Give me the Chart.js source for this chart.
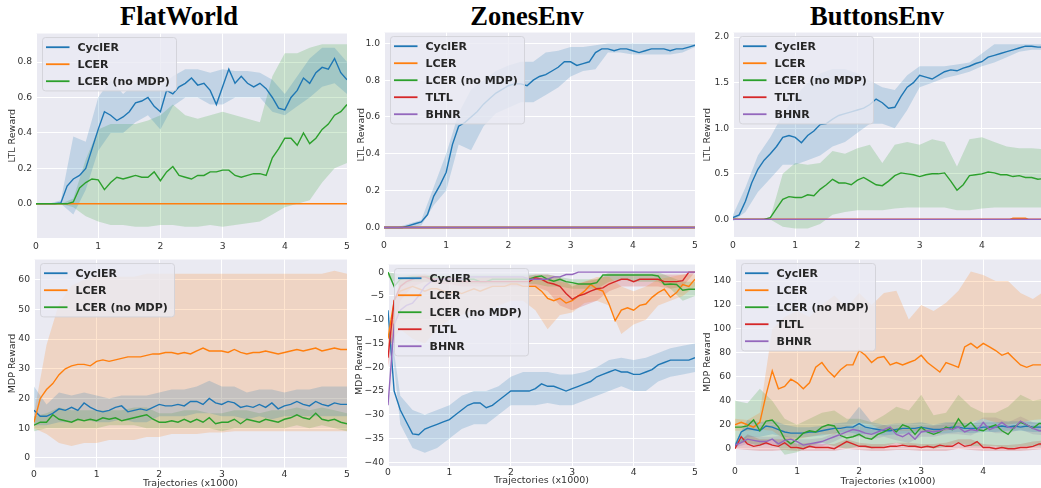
<!DOCTYPE html>
<html>
<head>
<meta charset="utf-8">
<script src="https://cdn.jsdelivr.net/npm/chart.js@4.4.1/dist/chart.umd.min.js"></script>
<style>
html, body { margin: 0; padding: 0; background: #fff; overflow: hidden; width: 1041px; height: 488px; }
canvas { position: absolute; }
.ttl { position: absolute; width: 240px; text-align: center; font: bold 26.5px "Liberation Serif", "Times New Roman", serif; line-height: 30px; color: #000; }
</style>
</head>
<body>
<div class="ttl" style="left:59px;top:1px">FlatWorld</div>
<div class="ttl" style="left:407px;top:1px">ZonesEnv</div>
<div class="ttl" style="left:757px;top:1px">ButtonsEnv</div>
<script>
// x grids (thousands of trajectories)
var XS = [0,0.1,0.2,0.3,0.4,0.5,0.6,0.7,0.8,0.9,1,1.1,1.2,1.3,1.4,1.5,1.6,1.7,1.8,1.9,2,2.1,2.2,2.3,2.4,2.5,2.6,2.7,2.8,2.9,
          3,3.1,3.2,3.3,3.4,3.5,3.6,3.7,3.8,3.9,4,4.1,4.2,4.3,4.4,4.5,4.6,4.7,4.8,4.9,5];
var XB = [0,0.2,0.4,0.6,0.8,1,1.2,1.4,1.6,1.8,2,2.2,2.4,2.6,2.8,3,3.2,3.4,3.6,3.8,4,4.2,4.4,4.6,4.8,5];
var FLAT_X = [0, 5];
var FLAT_ZERO = [0, 0];

// tick labels
var X_TICKS_5 = [0,1,2,3,4,5];
var X_TICKS_4 = [0,1,2,3,4];
var FW_LTL_YTICKS = [0,0.2,0.4,0.6,0.8];
var ZE_LTL_YTICKS = [0,0.2,0.4,0.6,0.8,1.0];
var BE_LTL_YTICKS = [0,0.5,1.0,1.5,2.0];
var FW_MDP_YTICKS = [0,10,20,30,40,50,60];
var ZE_MDP_YTICKS = [-40,-35,-30,-25,-20,-15,-10,-5,0];
var BE_MDP_YTICKS = [0,20,40,60,80,100,120,140];

// FlatWorld - LTL reward
var FW_LTL_CYCLER = [0,0,0,0,0.005,0.1,0.14,0.16,0.2,0.31,
  0.42,0.52,0.5,0.47,0.49,0.52,0.57,0.58,0.6,0.55,
  0.52,0.64,0.62,0.66,0.68,0.71,0.67,0.68,0.64,0.56,
  0.66,0.76,0.68,0.72,0.68,0.66,0.68,0.65,0.6,0.54,
  0.53,0.6,0.64,0.71,0.68,0.74,0.77,0.76,0.82,0.74,0.7];
var FW_LTL_CYCLER_LO = [0,0,0,-0.06,0.08,0.3,0.4,0.4,0.46,0.5,0.42,0.55,0.6,0.6,0.56,0.56,0.6,0.6,0.6,0.52,0.5,0.55,0.6,0.66,0.68,0.62];
var FW_LTL_CYCLER_HI = [0,0,0.02,0.38,0.35,0.6,0.7,0.62,0.68,0.72,0.66,0.72,0.76,0.76,0.74,0.76,0.75,0.75,0.74,0.7,0.62,0.72,0.82,0.88,0.88,0.8];
var FW_LTL_NOMDP = [0,0,0,0,0,0,0.01,0.09,0.12,0.14,
  0.135,0.08,0.12,0.15,0.14,0.15,0.16,0.15,0.15,0.18,
  0.13,0.18,0.21,0.16,0.15,0.14,0.16,0.16,0.18,0.18,
  0.19,0.19,0.16,0.15,0.16,0.17,0.17,0.16,0.26,0.31,
  0.37,0.37,0.33,0.4,0.34,0.37,0.42,0.45,0.5,0.52,0.56];
var FW_LTL_NOMDP_LO = [0,0,0,-0.02,-0.07,-0.1,-0.12,-0.12,-0.13,-0.13,-0.12,-0.12,-0.13,-0.13,-0.12,-0.13,-0.12,-0.11,-0.1,-0.06,-0.02,0,0.02,0.12,0.2,0.23];
var FW_LTL_NOMDP_HI = [0,0,0,0.03,0.25,0.42,0.45,0.45,0.45,0.47,0.5,0.56,0.5,0.48,0.5,0.52,0.5,0.48,0.46,0.72,0.85,0.85,0.88,0.9,0.9,0.9];

// ZonesEnv - LTL reward
var ZE_LTL_CYCLER = [0,0,0,0,0.01,0.02,0.03,0.07,0.17,0.23,
  0.3,0.45,0.55,0.57,0.6,0.63,0.67,0.7,0.73,0.75,
  0.77,0.78,0.78,0.77,0.8,0.82,0.83,0.85,0.87,0.9,
  0.9,0.88,0.89,0.9,0.95,0.97,0.97,0.96,0.97,0.97,
  0.96,0.95,0.96,0.97,0.97,0.97,0.96,0.97,0.97,0.98,0.99];
var ZE_LTL_CYCLER_LO = [0,0,0,0.01,0.12,0.2,0.45,0.42,0.55,0.62,0.65,0.68,0.68,0.72,0.76,0.82,0.85,0.86,0.95,0.95,0.94,0.94,0.94,0.94,0.95,0.98];
var ZE_LTL_CYCLER_HI = [0,0,0.02,0.04,0.22,0.4,0.62,0.75,0.8,0.85,0.88,0.9,0.9,0.95,0.96,0.98,0.98,0.99,1.0,1.0,1.0,1.0,1.0,1.0,1.0,1.0];

// ButtonsEnv - LTL reward
var BE_LTL_CYCLER = [0.02,0.05,0.2,0.4,0.55,0.65,0.72,0.8,0.9,0.92,
  0.9,0.84,0.92,0.97,1.04,1.05,1.1,1.14,1.16,1.18,
  1.2,1.22,1.26,1.32,1.28,1.22,1.23,1.35,1.45,1.5,
  1.58,1.56,1.54,1.58,1.62,1.64,1.63,1.66,1.68,1.71,
  1.73,1.78,1.8,1.82,1.84,1.86,1.88,1.9,1.9,1.89,1.89];
var BE_LTL_CYCLER_LO = [-0.02,0.08,0.3,0.45,0.6,0.6,0.65,0.7,0.8,0.85,0.95,1.05,1.05,1.0,1.2,1.45,1.5,1.55,1.58,1.62,1.68,1.72,1.78,1.84,1.86,1.86];
var BE_LTL_CYCLER_HI = [0.05,0.35,0.7,0.9,1.15,1.35,1.5,1.6,1.65,1.65,1.6,1.52,1.45,1.42,1.58,1.68,1.68,1.68,1.7,1.72,1.82,1.92,1.92,1.92,1.92,1.92];
var BE_LTL_LCER_X = [0,4.45,4.5,4.7,4.75,5];
var BE_LTL_LCER = [0,0,0.012,0.012,0,0];
var BE_LTL_NOMDP = [0,0,0,0,0,0,0.02,0.12,0.22,0.25,
  0.24,0.24,0.27,0.26,0.33,0.38,0.44,0.4,0.4,0.38,
  0.43,0.46,0.42,0.38,0.37,0.42,0.48,0.51,0.5,0.49,
  0.47,0.49,0.5,0.5,0.51,0.42,0.32,0.38,0.48,0.49,
  0.5,0.52,0.51,0.49,0.49,0.47,0.48,0.46,0.46,0.44,0.45];
var BE_LTL_NOMDP_LO = [0,0,0,0,-0.08,-0.1,-0.1,-0.05,0.05,0.08,0.1,0.1,0.1,0.12,0.13,0.13,0.13,0.13,0.1,0.1,0.12,0.13,0.13,0.13,0.13,0.13];
var BE_LTL_NOMDP_HI = [0,0,0,0.02,0.5,0.62,0.6,0.62,0.75,0.72,0.78,0.82,0.62,0.82,0.85,0.82,0.88,0.85,0.58,0.88,0.9,0.85,0.8,0.78,0.78,0.77];

// FlatWorld - MDP reward
var FW_MDP_CYCLER = [16,14,14,15,16.5,16,17,16,18.5,17,
  16,15.5,16,17,17.5,15.5,16,16.5,16,17,
  18,17.5,17.5,18,17.5,19,19,18,20,18.5,
  18,19,18.5,17,17.5,17,18,17,18.5,16.5,
  17.5,18,19,18,17.5,19,18,17.5,18.5,18,18];
var FW_MDP_CYCLER_LO = [11,11,12,12,13,12,12,13,12,12,14,14,14,15,15,14,14,13,14,13,14,14,14,14,14,14];
var FW_MDP_CYCLER_HI = [24,18,22,21,22,21,20,21,21,21,22,23,23,24,26,24,24,22,23,23,22,23,23,24,24,24];
var FW_MDP_LCER = [12,20,23,25,28,30,31,31.5,31.5,31,
  32.5,33,32.5,33,33.5,34,34,34,34.5,35,
  35,35.5,35.5,35,35.5,35,36,37,36,36,
  36,35.5,36.5,35.5,35,35.5,35.5,36,35.5,35,
  35.5,36,36.5,36,36.5,37,36,36.5,37,36.5,36.5];
var FW_MDP_LCER_LO = [10,8,5,4,5,5,6,6,6,7,7,8,8,8,8.5,8.5,9,9,9,9,9,9,9,9,9,9];
var FW_MDP_LCER_HI = [15,38,52,58,60,61,61,61,61,62,62,62,62,62,62,62,62,62,62,62,62,62,62,62,63,62];
var FW_MDP_NOMDP = [11,12,12,14.5,13,12.5,12,13,12.5,13,
  12.5,13.5,13,13.5,12.5,13,13.5,14,14.5,13,
  12,12,12.5,12,13,12,13,12,13.5,11.5,
  12,12,13,11.5,13,12.5,12,13,12.5,12,
  13,13.5,14.5,13.5,13,15,13,12.5,13,12,11.5];
var FW_MDP_NOMDP_LO = [9,10,10,10,10,10,11,11,11,10,10,10,10,10,10,9,10,10,10,10,10,11,10,11,10,9];
var FW_MDP_NOMDP_HI = [14,15,17,16,16,16,16,16,17,17,15,15,16,16,15,15,16,16,15,16,16,17,16,17,16,15];

// ZonesEnv - MDP reward
var ZE_MDP_CYCLER = [-8,-25,-29,-31.5,-34,-34.2,-33,-32.5,-32,-31.5,
  -31,-30,-29,-28,-27.5,-27.5,-28.5,-28,-27,-26,
  -25,-25,-25,-25,-24.5,-23.5,-24,-24,-24.5,-25,
  -24.5,-24,-23.5,-23,-22,-21.5,-21,-20.5,-21,-21,
  -21.5,-21.5,-21,-20.5,-19.5,-19,-18.5,-18.5,-18.5,-18.5,-18];
var ZE_MDP_CYCLER_LO = [-8,-32,-37,-38,-37,-35,-33,-32,-32,-30,-28,-28,-28,-27.5,-28,-28,-27,-26,-25,-24,-25,-25,-23,-22,-21.5,-21];
var ZE_MDP_CYCLER_HI = [-8,-26,-29,-30,-29,-28,-26,-25,-25,-24,-22,-21,-21,-21,-21.5,-21.5,-21,-20,-18.5,-18,-18.5,-18,-17,-16,-15.5,-15];
var ZE_MDP_LCER = [-14,-6,-4,-3.5,-3,-3.5,-4,-3.5,-3.5,-4,
  -4.5,-4,-4.5,-4,-3.5,-4,-3.5,-3,-3,-3,
  -2.5,-2.5,-3,-3,-3,-4,-5.5,-6,-5.5,-6.5,
  -6,-5,-4,-2.6,-3.5,-4,-6.7,-10.2,-8,-7.5,
  -8,-7,-6.7,-5.3,-4.3,-3.6,-5.3,-4.3,-2.6,-3,-1.5];
var ZE_MDP_LCER_LO = [-16,-12,-14,-15,-12,-10,-9,-8,-8,-7,-6,-6,-8,-12,-9,-8.5,-6.5,-6,-7,-13,-11,-10,-7,-6,-5,-3];
var ZE_MDP_LCER_HI = [-12,-1,-1,-0.5,-1,-1,-1.5,-1.5,-1,-1,-1,-1,-1,-1.5,-2,-2.5,-2,-1,-1,-3,-4,-3,-1.5,-1,-0.5,-0.5];
var ZE_MDP_NOMDP = [0,-3,-1.5,-1.2,-1,-1,-1,-1,-1,-1.2,
  -1.5,-1.5,-1.5,-1.5,-1.5,-2,-2,-1.5,-1.5,-1.5,
  -1.5,-1.5,-1.5,-1.5,-1,-0.8,-1.5,-1.9,-1.5,-2,
  -2.2,-2.5,-2.5,-2.5,-2.2,-0.6,-0.6,-0.6,-0.6,-0.6,
  -0.6,-0.6,-0.6,-0.6,-0.8,-2.6,-2.5,-2.6,-3.8,-3.6,-3.6];
var ZE_MDP_NOMDP_LO = [-1,-3,-2,-2,-2,-2,-2.5,-2.5,-2.5,-2.5,-2.5,-2.5,-2.5,-3,-3,-3.5,-3.5,-3.5,-2,-1.5,-2,-2,-2,-3.5,-6,-5];
var ZE_MDP_NOMDP_HI = [0,-0.5,-0.5,-0.5,-0.5,-0.5,-0.5,-0.5,-0.5,-0.5,-0.5,-0.5,-0.5,-0.5,-1,-1.5,-1.5,-1.5,0,0,0,0,0,-1,-2,-2];
var ZE_MDP_TLTL = [-18,-6,-3,-2,-1.5,-1,-1,-1.5,-1.5,-1.5,
  -1.5,-1.5,-2,-2,-2,-2,-2,-2,-2,-2,
  -2,-2,-2,-2,-1.2,-1.5,-2.2,-2.5,-3,-4.5,
  -5.7,-5,-4.6,-4,-3.5,-3.3,-2.5,-2,-1.5,-1.5,
  -2,-1.5,-1.5,-1.5,-1.5,-2,-2,-2,-1.8,0,0];
var ZE_MDP_TLTL_LO = [-20,-6,-3,-2,-2.5,-2.5,-3,-3,-3,-3,-3,-3,-3,-4,-7,-8,-7,-6,-4,-3,-3,-3,-3,-3.5,-3,0];
var ZE_MDP_TLTL_HI = [-15,-1,-0.5,-0.5,-1,-1,-1,-1,-1,-1,-1,-1,-0.5,-0.5,-1,-3,-2,-1.5,-0.5,-0.5,-0.5,-0.5,-0.5,-0.5,-0.5,0];
var ZE_MDP_BHNR = [-28,-11,-8,-7,-6.5,-5,-3,-2,-1.5,-1.5,
  -1.5,-1.5,-1.5,-1,-1,-1,-1,-1,-1,-1,
  -1,-1,-1,-1.5,-1.5,-1.5,-1.5,-1,-1,-0.5,
  -0.5,0,0,0,0,0,0,0,0,0,
  0,0,0,0,0,0,0,0,0,0,0];

// ButtonsEnv - MDP reward
var BE_MDP_CYCLER = [2,14,17,16,15,19,18,16,14,13,
  13,13,14,14,15,16,17,17,18,18,
  21,18,17,16,15,15,16,17,17,17,
  18,17,16,16,17,18,18,17,17,17,
  18,18,18,19,18,19,18,19,18,18,18];
var BE_MDP_CYCLER_LO = [0,10,10,12,10,9,10,11,13,14,12,12,11,12,13,14,12,13,14,13,14,14,15,15,14,14];
var BE_MDP_CYCLER_HI = [5,24,22,24,20,18,18,19,21,22,35,22,20,21,21,22,20,22,22,21,22,22,23,23,22,22];
var BE_MDP_LCER = [20,22,20,18,22,45,65,50,52,58,
  55,50,55,68,72,65,60,66,70,70,
  82,78,72,76,77,70,72,70,72,74,
  78,72,68,64,72,70,68,85,88,84,
  88,85,82,78,80,75,70,68,70,70,70];
var BE_MDP_LCER_LO = [15,15,16,15,8,8,10,12,12,18,22,20,15,15,15,15,14,15,18,22,25,22,20,22,24,25];
var BE_MDP_LCER_HI = [25,24,30,100,110,115,110,120,128,118,130,120,130,132,108,120,115,122,132,148,145,140,140,130,125,132];
var BE_MDP_NOMDP = [18,18,19,24,15,23,24,18,8,4,
  8,13,15,14,18,20,19,11,9,10,
  12,9,8,12,14,17,14,20,18,12,
  18,14,12,14,18,16,25,18,22,16,
  15,18,20,15,12,18,22,20,17,21,21];
var BE_MDP_NOMDP_LO = [5,5,2,8,-5,-3,2,5,2,0,2,0,2,5,2,2,0,2,5,2,2,2,0,2,2,2];
var BE_MDP_NOMDP_HI = [40,38,50,40,25,20,25,30,32,25,25,22,28,35,32,45,28,30,45,35,30,30,35,45,40,42];
var BE_MDP_TLTL = [0,10,4,2,3,5,3,2,5,1,
  1,0,2,1,1,1,0,3,6,4,
  2,2,1,1,1,2,2,3,2,2,
  1,2,1,3,2,2,5,2,3,6,
  1,1,0,1,0,0,1,1,2,4,4];
var BE_MDP_TLTL_LO = [0,-1,-2,-2,-1,-2,-2,-2,-2,0,-1,-2,-2,-1,-1,-2,-2,-2,0,-1,-2,-2,-2,-2,-1,0];
var BE_MDP_TLTL_HI = [2,12,8,8,8,4,5,4,4,8,5,4,4,5,5,4,4,5,8,8,4,3,3,4,6,7];
var BE_MDP_BHNR = [3,5,8,7,6,6,8,4,7,8,
  6,3,4,5,6,8,10,12,14,16,
  15,13,12,14,16,18,12,10,13,8,
  14,15,14,15,17,16,18,14,16,15,
  22,16,18,22,18,17,23,20,17,15,15];
var BE_MDP_BHNR_LO = [1,4,3,3,3,2,1,2,6,11,10,8,10,7,5,10,10,12,12,11,16,13,13,16,12,11];
var BE_MDP_BHNR_HI = [5,11,10,10,11,8,8,9,13,18,19,16,20,16,16,18,19,21,22,20,26,26,22,27,22,20];

var BLUE = "#1f77b4", ORANGE = "#ff7f0e", GREEN = "#2ca02c", RED = "#d62728", PURPLE = "#9467bd";

Chart.defaults.font.family = '"DejaVu Sans", sans-serif';
Chart.defaults.font.size = 9;
Chart.defaults.color = "#333";

function fade(hex, a) {
    var n = parseInt(hex.slice(1), 16);
    return "rgba(" + (n >> 16) + "," + ((n >> 8) & 255) + "," + (n & 255) + "," + a + ")";
}

function pts(xs, ys) {
    return xs.map(function (x, i) { return { x: x, y: ys[i] }; });
}

function fmt(v, dec) {
    var s = Math.abs(v).toFixed(dec);
    return (v < 0 ? "\u2212" : "") + s;
}

var plotBg = {
    id: "plotBg",
    beforeDraw: function (chart) {
        var a = chart.chartArea, ctx = chart.ctx;
        ctx.save();
        ctx.fillStyle = "#EAEAF2";
        ctx.fillRect(a.left, a.top, a.right - a.left, a.bottom - a.top);
        ctx.restore();
    }
};

function innerLegend(items) {
    return {
        id: "innerLegend",
        afterDatasetsDraw: function (chart) {
            var a = chart.chartArea, ctx = chart.ctx;
            var x0 = a.left + 6.5, y0 = a.top + 4;
            var w = 134, h = 19.4 + (items.length - 1) * 17;
            ctx.save();
            ctx.beginPath();
            ctx.roundRect(x0, y0, w, h, 3);
            ctx.fillStyle = "rgba(234,234,242,0.8)";
            ctx.fill();
            ctx.strokeStyle = "rgba(210,210,216,0.9)";
            ctx.lineWidth = 1;
            ctx.stroke();
            ctx.font = 'bold 11px "DejaVu Sans", sans-serif';
            ctx.textBaseline = "middle";
            for (var i = 0; i < items.length; i++) {
                var y = y0 + 9.7 + 17 * i;
                ctx.strokeStyle = items[i].color;
                ctx.lineWidth = 1.8;
                ctx.beginPath();
                ctx.moveTo(x0 + 3.5, y);
                ctx.lineTo(x0 + 27, y);
                ctx.stroke();
                ctx.fillStyle = "#262626";
                ctx.fillText(items[i].label, x0 + 35, y + 0.5);
            }
            ctx.restore();
        }
    };
}

function buildPanel(g) {
    var cl = Math.round(g.yTitleX - 5.7);
    var ct = g.T - 8;
    var cw = Math.round(g.R - cl + 6);
    var ch = Math.round(g.cb - ct);
    var cv = document.createElement("canvas");
    cv.width = cw;
    cv.height = ch;
    cv.style.left = cl + "px";
    cv.style.top = ct + "px";
    document.body.appendChild(cv);

    var lines = [], bands = [];
    var n = g.series.length;
    for (var i = 0; i < n; i++) {
        var s = g.series[i];
        lines.push({
            label: s.label, data: pts(s.x, s.y), borderColor: s.color, borderWidth: 1.4,
            pointRadius: 0, fill: false, tension: 0, order: 10 - i
        });
        if (s.band) {
            bands.push({ data: pts(XB, s.band[0]), borderWidth: 0, pointRadius: 0, fill: false, order: 100 });
            bands.push({ data: pts(XB, s.band[1]), borderWidth: 0, pointRadius: 0, fill: "-1",
                backgroundColor: fade(s.color, 0.2), order: 100 });
        }
    }

    return new Chart(cv, {
        type: "line",
        data: { datasets: lines.concat(bands) },
        options: {
            responsive: false,
            animation: false,
            events: [],
            layout: { padding: { left: 0, top: 8, right: 6, bottom: 0 } },
            plugins: { legend: { display: false }, tooltip: { enabled: false } },
            scales: {
                x: {
                    type: "linear", min: g.xMin, max: g.xMax, bounds: "data",
                    border: { display: false },
                    grid: { color: "#ffffff", lineWidth: 1, drawTicks: false },
                    ticks: { padding: g.xPad, color: "#333", font: { size: 9.2 }, callback: function (v) { return String(v); } },
                    afterBuildTicks: function (sc) { sc.ticks = g.xTicks.map(function (v) { return { value: v }; }); },
                    afterFit: function (sc) { sc.height = g.cb - g.B; },
                    title: g.xTitle ? { display: true, text: g.xTitle, padding: 0, color: "#333", font: { size: 9.5 } } : { display: false }
                },
                y: {
                    type: "linear", min: g.yMin, max: g.yMax, bounds: "data",
                    border: { display: false },
                    grid: { color: "#ffffff", lineWidth: 1, drawTicks: false },
                    ticks: { padding: 4, color: "#333", font: { size: 9.2 }, callback: function (v) { return fmt(v, g.yDec); } },
                    afterBuildTicks: function (sc) { sc.ticks = g.yTicks.map(function (v) { return { value: v }; }); },
                    afterFit: function (sc) { sc.width = g.L - cl; },
                    title: { display: true, text: g.yTitle, padding: 0, color: "#333", font: { size: 9.5 } }
                }
            }
        },
        plugins: [plotBg, innerLegend(g.series.map(function (s) { return { label: s.label, color: s.color }; }))]
    });
}

var panels = [
    { L: 36, T: 32, R: 347, B: 238, cb: 254, yTitleX: 12.5, xMin: 0, xMax: 5, yMin: -0.193, yMax: 0.961,
      xTicks: X_TICKS_5, yTicks: FW_LTL_YTICKS, yDec: 1, yTitle: "LTL Reward", xTitle: null, xPad: 3,
      series: [
        { label: "CyclER", color: BLUE, x: XS, y: FW_LTL_CYCLER, band: [FW_LTL_CYCLER_LO, FW_LTL_CYCLER_HI] },
        { label: "LCER", color: ORANGE, x: FLAT_X, y: FLAT_ZERO },
        { label: "LCER (no MDP)", color: GREEN, x: XS, y: FW_LTL_NOMDP, band: [FW_LTL_NOMDP_LO, FW_LTL_NOMDP_HI] }
      ] },
    { L: 384, T: 31, R: 695, B: 237, cb: 253, yTitleX: 362, xMin: 0, xMax: 5, yMin: -0.052, yMax: 1.059,
      xTicks: X_TICKS_5, yTicks: ZE_LTL_YTICKS, yDec: 1, yTitle: "LTL Reward", xTitle: null, xPad: 3,
      series: [
        { label: "CyclER", color: BLUE, x: XS, y: ZE_LTL_CYCLER, band: [ZE_LTL_CYCLER_LO, ZE_LTL_CYCLER_HI] },
        { label: "LCER", color: ORANGE, x: FLAT_X, y: FLAT_ZERO },
        { label: "LCER (no MDP)", color: GREEN, x: FLAT_X, y: FLAT_ZERO },
        { label: "TLTL", color: RED, x: FLAT_X, y: FLAT_ZERO },
        { label: "BHNR", color: PURPLE, x: FLAT_X, y: FLAT_ZERO }
      ] },
    { L: 733, T: 31, R: 1041, B: 237, cb: 253, yTitleX: 708, xMin: 0, xMax: 4.95, yMin: -0.193, yMax: 2.05,
      xTicks: X_TICKS_4, yTicks: BE_LTL_YTICKS, yDec: 1, yTitle: "LTL Reward", xTitle: null, xPad: 3,
      series: [
        { label: "CyclER", color: BLUE, x: XS, y: BE_LTL_CYCLER, band: [BE_LTL_CYCLER_LO, BE_LTL_CYCLER_HI] },
        { label: "LCER", color: ORANGE, x: BE_LTL_LCER_X, y: BE_LTL_LCER },
        { label: "LCER (no MDP)", color: GREEN, x: XS, y: BE_LTL_NOMDP, band: [BE_LTL_NOMDP_LO, BE_LTL_NOMDP_HI] },
        { label: "TLTL", color: RED, x: FLAT_X, y: FLAT_ZERO },
        { label: "BHNR", color: PURPLE, x: FLAT_X, y: FLAT_ZERO }
      ] },
    { L: 34, T: 258, R: 347, B: 467, cb: 488.5, yTitleX: 12.5, xMin: 0, xMax: 5, yMin: -3.25, yMax: 66.8,
      xTicks: X_TICKS_5, yTicks: FW_MDP_YTICKS, yDec: 0, yTitle: "MDP Reward", xTitle: "Trajectories (x1000)", xPad: 1.5,
      series: [
        { label: "CyclER", color: BLUE, x: XS, y: FW_MDP_CYCLER, band: [FW_MDP_CYCLER_LO, FW_MDP_CYCLER_HI] },
        { label: "LCER", color: ORANGE, x: XS, y: FW_MDP_LCER, band: [FW_MDP_LCER_LO, FW_MDP_LCER_HI] },
        { label: "LCER (no MDP)", color: GREEN, x: XS, y: FW_MDP_NOMDP, band: [FW_MDP_NOMDP_LO, FW_MDP_NOMDP_HI] }
      ] },
    { L: 388, T: 263, R: 695, B: 466, cb: 486, yTitleX: 360, xMin: 0, xMax: 5, yMin: -40.76, yMax: 1.6,
      xTicks: X_TICKS_5, yTicks: ZE_MDP_YTICKS, yDec: 0, yTitle: "MDP Reward", xTitle: "Trajectories (x1000)", xPad: 1.5,
      series: [
        { label: "CyclER", color: BLUE, x: XS, y: ZE_MDP_CYCLER, band: [ZE_MDP_CYCLER_LO, ZE_MDP_CYCLER_HI] },
        { label: "LCER", color: ORANGE, x: XS, y: ZE_MDP_LCER, band: [ZE_MDP_LCER_LO, ZE_MDP_LCER_HI] },
        { label: "LCER (no MDP)", color: GREEN, x: XS, y: ZE_MDP_NOMDP, band: [ZE_MDP_NOMDP_LO, ZE_MDP_NOMDP_HI] },
        { label: "TLTL", color: RED, x: XS, y: ZE_MDP_TLTL, band: [ZE_MDP_TLTL_LO, ZE_MDP_TLTL_HI] },
        { label: "BHNR", color: PURPLE, x: XS, y: ZE_MDP_BHNR }
      ] },
    { L: 735, T: 258, R: 1041, B: 465, cb: 487, yTitleX: 708, xMin: 0, xMax: 4.93, yMin: -13.6, yMax: 158,
      xTicks: X_TICKS_4, yTicks: BE_MDP_YTICKS, yDec: 0, yTitle: "MDP Reward", xTitle: "Trajectories (x1000)", xPad: 1.5,
      series: [
        { label: "CyclER", color: BLUE, x: XS, y: BE_MDP_CYCLER, band: [BE_MDP_CYCLER_LO, BE_MDP_CYCLER_HI] },
        { label: "LCER", color: ORANGE, x: XS, y: BE_MDP_LCER, band: [BE_MDP_LCER_LO, BE_MDP_LCER_HI] },
        { label: "LCER (no MDP)", color: GREEN, x: XS, y: BE_MDP_NOMDP, band: [BE_MDP_NOMDP_LO, BE_MDP_NOMDP_HI] },
        { label: "TLTL", color: RED, x: XS, y: BE_MDP_TLTL, band: [BE_MDP_TLTL_LO, BE_MDP_TLTL_HI] },
        { label: "BHNR", color: PURPLE, x: XS, y: BE_MDP_BHNR, band: [BE_MDP_BHNR_LO, BE_MDP_BHNR_HI] }
      ] }
];

panels.forEach(buildPanel);
</script>
</body>
</html>
